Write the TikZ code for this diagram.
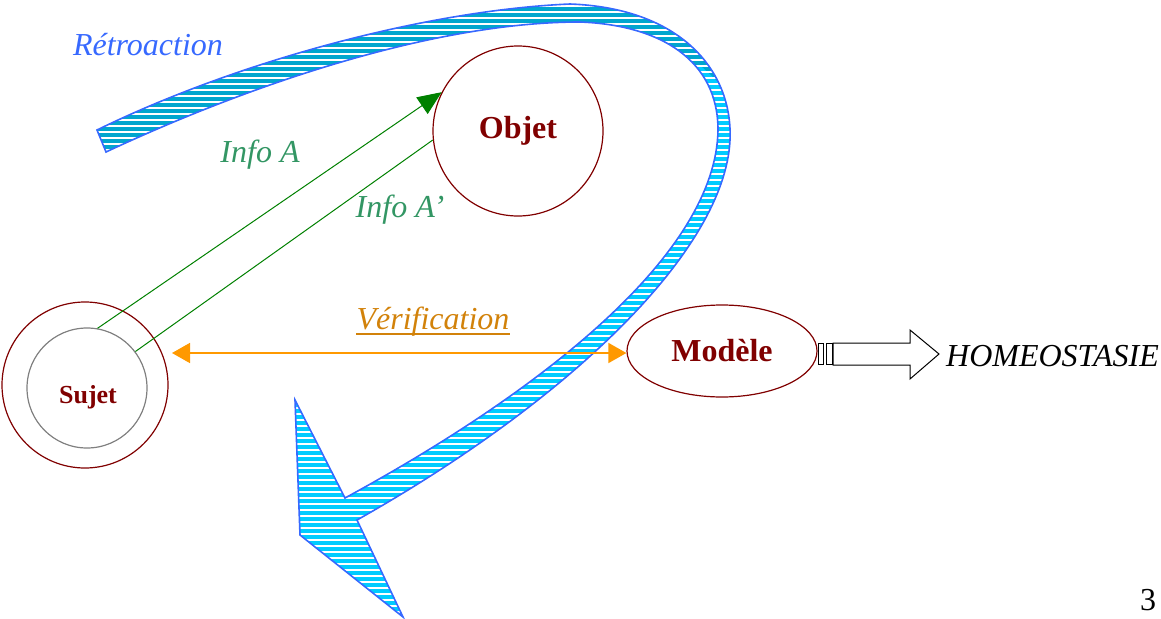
\documentclass[tikz,border=0pt]{standalone}
\usepackage{fontspec}
\setmainfont{Liberation Serif}
\usetikzlibrary{arrows.meta, patterns.meta, positioning, shapes.geometric}
\definecolor{bordeaux}{RGB}{128,0,0}
\definecolor{infogreen}{RGB}{51,150,100}
\definecolor{arrowgreen}{RGB}{0,128,0}
\definecolor{verifdark}{RGB}{210,130,10}
\definecolor{verifline}{RGB}{255,153,0}
\definecolor{retroblue}{RGB}{55,105,255}
\definecolor{bandlight}{RGB}{0,204,255}
\definecolor{banddark}{RGB}{0,166,206}
\newcommand{\retropath}{(97,130) .. controls (240,60) and (430,10) .. (570,4)
 .. controls (680,8) and (733,70) .. (730,140)
 .. controls (725,250) and (570,400) .. (357,520)
 -- (403,617) -- (300,535) -- (295,400) -- (345,498)
 .. controls (540,392) and (716,255) .. (718,130)
 .. controls (718,60) and (660,25) .. (580,22)
 .. controls (440,22) and (260,80) .. (106,152) -- cycle}

\begin{document}
\begin{tikzpicture}[x=1pt, y=-1pt,
  txt/.style={font=\fontsize{32}{38}\selectfont},
  txtit/.style={font=\fontsize{32}{38}\selectfont\itshape},
  txtbf/.style={font=\fontsize{32}{38}\selectfont\bfseries},
  rond/.style={draw=bordeaux, line width=1.2pt, circle},
  info/.style={arrowgreen, line width=1pt}]
\useasboundingbox (0,0) rectangle (1161,618);
% la boucle de retroaction
\fill[bandlight] \retropath;
\begin{scope}
\clip (0,0) -- (780,0) -- (740,102) -- (700,65) -- (600,200) -- (0,200) -- cycle;
\fill[banddark] \retropath;
\end{scope}
\path[pattern={Lines[angle=0, distance=6pt, line width=1.5pt]}, pattern color=white] \retropath;
\draw[retroblue, line width=1.6pt, line join=miter] \retropath;
\node[txtit, retroblue] (retro) at (148,45) {Rétroaction};

\node[rond, minimum size=166pt] (sujet) at (85,385) {};
\node[draw=gray, line width=1.2pt, circle, minimum size=120pt] (sujetin) at (87,388) {};
\node[font=\fontsize{26}{30}\selectfont\bfseries, bordeaux] (sujettxt) at (88,397) {Sujet};
\node[rond, minimum size=170pt, txtbf, text=bordeaux] (objet) at (518,131) {Objet};
\node[draw=bordeaux, line width=1.2pt, ellipse, minimum width=190pt, minimum height=92pt, txtbf, text=bordeaux] (modele) at (722,351) {Modèle};

\draw[info, -{Triangle[length=24pt, width=20pt]}] (sujetin.80) -- (objet.153);
\draw[info] (objet.186) -- (sujetin.37);
\node[txtit, infogreen] (infoa) at (260,155) {Info A};
\node[txtit, infogreen] (infob) at (400,210) {Info A’};

\coordinate (verifL) at (172,353);
\draw[verifline, line width=1.6pt, {Triangle[length=18pt, width=20pt]}-{Triangle[length=18pt, width=20pt]}] (verifL) -- (verifL -| modele.west);
\node[txtit, verifdark, inner sep=0pt] (verif) at (433,322) {Vérification};
\draw[verifdark, line width=2pt] ([yshift=-4pt]verif.base west) -- ([yshift=-4pt]verif.base east);

% fleche vers l'homeostasie
\draw[line width=1pt] (818,343) rectangle (823,364) (826,343) rectangle (832,364);
\draw[line width=1pt] (833,343) -- (910,343) -- (910,330) -- (939,354) -- (910,379) -- (910,365) -- (833,365) -- cycle;
\node[txtit, anchor=west, inner sep=0pt] (homeo) at (946,356) {HOMEOSTASIE};
\node[txt, inner sep=0pt] (page) at (1148,600) {3};
\end{tikzpicture}
\end{document}
